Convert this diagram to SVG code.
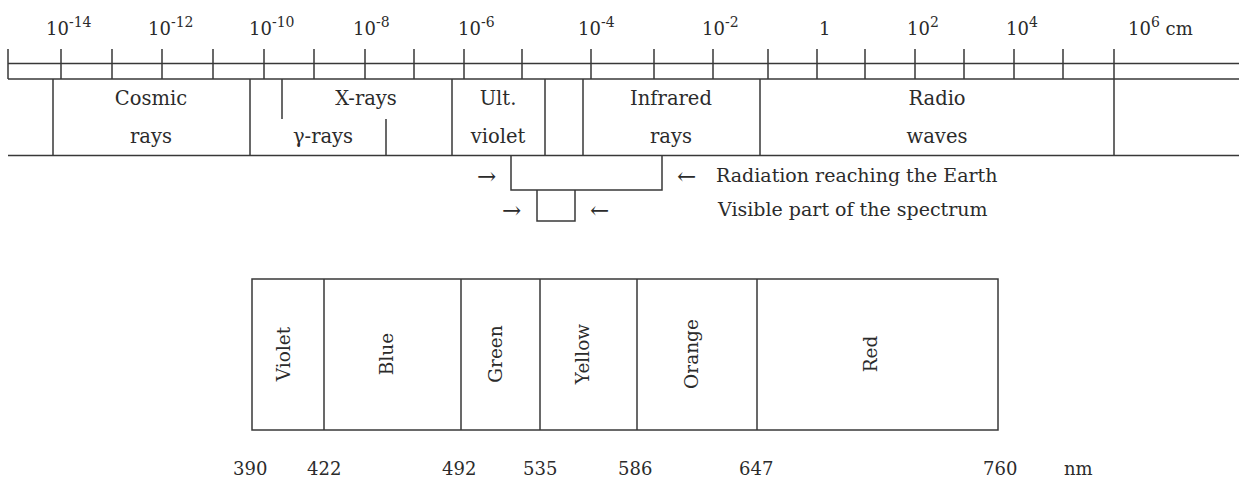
<svg xmlns="http://www.w3.org/2000/svg" width="1239" height="478" viewBox="0 0 1239 478">
<style>
  .ln { stroke:#383838; stroke-width:1.5; fill:none; }
  .t { font-family:"DejaVu Serif","Liberation Serif",serif; fill:#2b2b2b; }
  .num { font-size:18px; }
  .sup { font-size:14px; }
  .lbl { font-size:19.5px; text-anchor:middle; }
  .note { font-size:19px; }
  .arr { font-size:23px; }
  .rot { font-size:18.5px; text-anchor:middle; }
  .bn { font-size:18px; }
</style>
<rect width="1239" height="478" fill="#ffffff"/>

<g id="scale">
  <line class="ln" x1="8" y1="63.5" x2="1239" y2="63.5"/>
  <line class="ln" x1="8" y1="79" x2="1239" y2="79"/>
  <path class="ln" d="M8 49V79 M61 49V79 M112 49V79 M162 49V79 M213 49V79 M264 49V79 M314 49V79 M365 49V79 M414 49V79 M464 49V79 M522 49V79 M591 49V79 M654 49V79 M713 49V79 M768 49V79 M817 49V79 M865 49V79 M915 49V79 M964 49V79 M1014 49V79 M1063 49V79 M1114 49V79"/>
  <g class="t num">
    <text x="46" y="35">10<tspan class="sup" dy="-8">-14</tspan></text>
    <text x="148" y="35">10<tspan class="sup" dy="-8">-12</tspan></text>
    <text x="249" y="35">10<tspan class="sup" dy="-8">-10</tspan></text>
    <text x="353" y="35">10<tspan class="sup" dy="-8">-8</tspan></text>
    <text x="458" y="35">10<tspan class="sup" dy="-8">-6</tspan></text>
    <text x="578" y="35">10<tspan class="sup" dy="-8">-4</tspan></text>
    <text x="702" y="35">10<tspan class="sup" dy="-8">-2</tspan></text>
    <text x="819" y="35">1</text>
    <text x="907" y="35">10<tspan class="sup" dy="-8">2</tspan></text>
    <text x="1006" y="35">10<tspan class="sup" dy="-8">4</tspan></text>
    <text x="1128" y="35">10<tspan class="sup" dy="-8">6</tspan><tspan dy="8"> cm</tspan></text>
  </g>
</g>

<g id="bands">
  <line class="ln" x1="8" y1="155.5" x2="1239" y2="155.5"/>
  <path class="ln" d="M53 79V155.5 M250 79V155.5 M282 79V119 M386 119V155.5 M452 79V155.5 M545 79V155.5 M583 79V155.5 M760 79V155.5 M1114 79V155.5"/>
  <g id="cosmic" class="t lbl"><text x="151" y="105">Cosmic</text><text x="151" y="143">rays</text></g>
  <g id="xrays" class="t lbl"><text x="366" y="105">X-rays</text></g>
  <g id="gamma" class="t lbl"><text x="323" y="143">γ-rays</text></g>
  <g id="uv" class="t lbl"><text x="498" y="105">Ult.</text><text x="498" y="143">violet</text></g>
  <g id="infrared" class="t lbl"><text x="671" y="105">Infrared</text><text x="671" y="143">rays</text></g>
  <g id="radio" class="t lbl"><text x="937" y="105">Radio</text><text x="937" y="143">waves</text></g>
</g>

<g id="connectors">
  <path class="ln" d="M511 155.5V190H662V155.5"/>
  <path class="ln" d="M537 190V221H575V190"/>
  <g class="t arr">
    <text x="477" y="183.5">→</text>
    <text x="677" y="183.5">←</text>
    <text x="502" y="217.5">→</text>
    <text x="590" y="217.5">←</text>
  </g>
</g>
<g id="earth" class="t note"><text x="716" y="182">Radiation reaching the Earth</text></g>
<g id="visible" class="t note"><text x="718" y="216">Visible part of the spectrum</text></g>

<g id="spectrum">
  <rect class="ln" x="252" y="279" width="746" height="151"/>
  <path class="ln" d="M324 279V430 M461 279V430 M540 279V430 M637 279V430 M757 279V430"/>
  <g class="t rot">
    <text transform="translate(290,354) rotate(-90)">Violet</text>
    <text transform="translate(393,354) rotate(-90)">Blue</text>
    <text transform="translate(502,354) rotate(-90)">Green</text>
    <text transform="translate(589,354) rotate(-90)">Yellow</text>
    <text transform="translate(698,354) rotate(-90)">Orange</text>
    <text transform="translate(877,354) rotate(-90)">Red</text>
  </g>
  <g class="t bn">
    <text x="233" y="475">390</text>
    <text x="307" y="475">422</text>
    <text x="442" y="475">492</text>
    <text x="523" y="475">535</text>
    <text x="618" y="475">586</text>
    <text x="739" y="475">647</text>
    <text x="983" y="475">760</text>
    <text x="1064" y="475">nm</text>
  </g>
</g>
</svg>
